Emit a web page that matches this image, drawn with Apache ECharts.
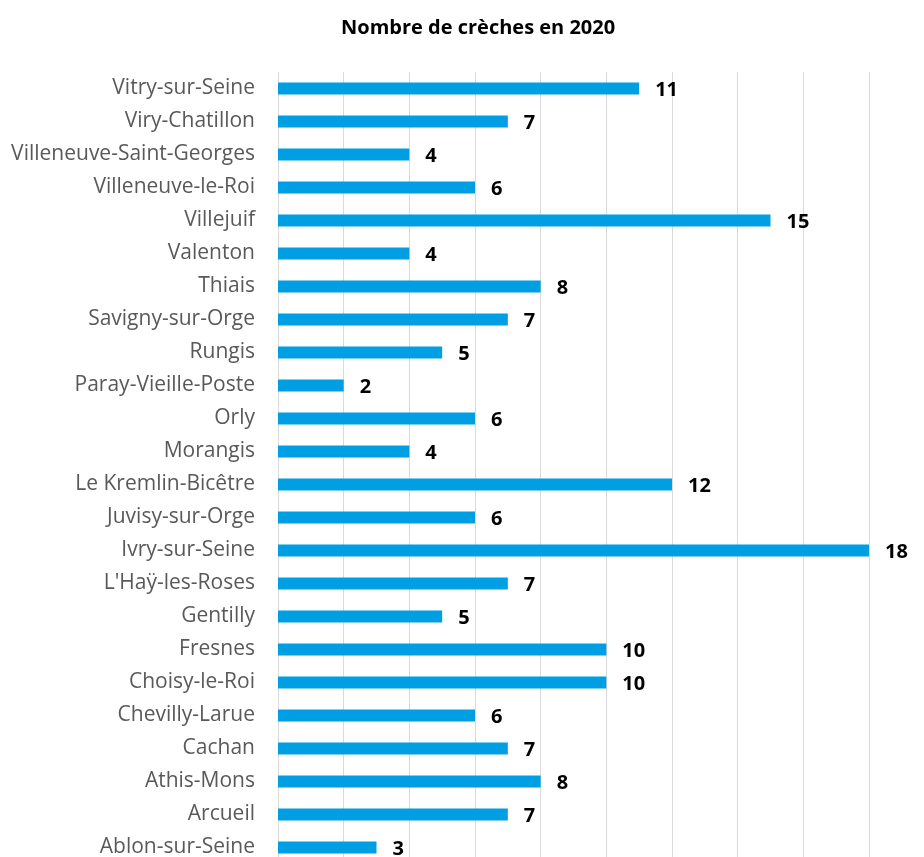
<!DOCTYPE html>
<html><head><meta charset="utf-8">
<script src="https://cdn.jsdelivr.net/npm/echarts@6/dist/echarts.min.js"></script>
<style>html,body{margin:0;padding:0;background:#fff;overflow:hidden}#c{width:924px;height:880px}</style>
</head><body><div id="c"></div>
<script>
const categories = ["Ablon-sur-Seine","Arcueil","Athis-Mons","Cachan","Chevilly-Larue","Choisy-le-Roi","Fresnes","Gentilly","L'Haÿ-les-Roses","Ivry-sur-Seine","Juvisy-sur-Orge","Le Kremlin-Bicêtre","Morangis","Orly","Paray-Vieille-Poste","Rungis","Savigny-sur-Orge","Thiais","Valenton","Villejuif","Villeneuve-le-Roi","Villeneuve-Saint-Georges","Viry-Chatillon","Vitry-sur-Seine"];
const values = [3,7,8,7,6,10,10,5,7,18,6,12,4,6,2,5,7,8,4,15,6,4,7,11];
const title = "Nombre de crèches en 2020";
const chart = echarts.init(document.getElementById('c'));
const font = "'Open Sans', 'Noto Sans', sans-serif";
chart.setOption({
  animation:false,
  title:{text:title,left:336,top:13,textStyle:{fontFamily:font,fontSize:20,fontWeight:'bold',color:'#000'}},
  grid:{left:278,right:55,top:72,height:792,containLabel:false},
  xAxis:{type:'value',min:0,max:18,interval:2,axisLabel:{show:false},axisLine:{show:false},axisTick:{show:false},
    splitLine:{show:true,lineStyle:{color:'#d9d9d9',width:1}}},
  yAxis:{type:'category',data:categories,axisLine:{show:false},axisTick:{show:false},
    axisLabel:{margin:23,padding:[3,0,0,0],fontFamily:font,fontSize:21,color:'#595959'}},
  series:[{type:'bar',data:values,barWidth:12,itemStyle:{color:'#009FE3'},
    label:{show:true,position:'right',distance:16,offset:[0,2],fontFamily:font,fontSize:20,fontWeight:'bold',color:'#000'}}]
});
</script></body></html>
